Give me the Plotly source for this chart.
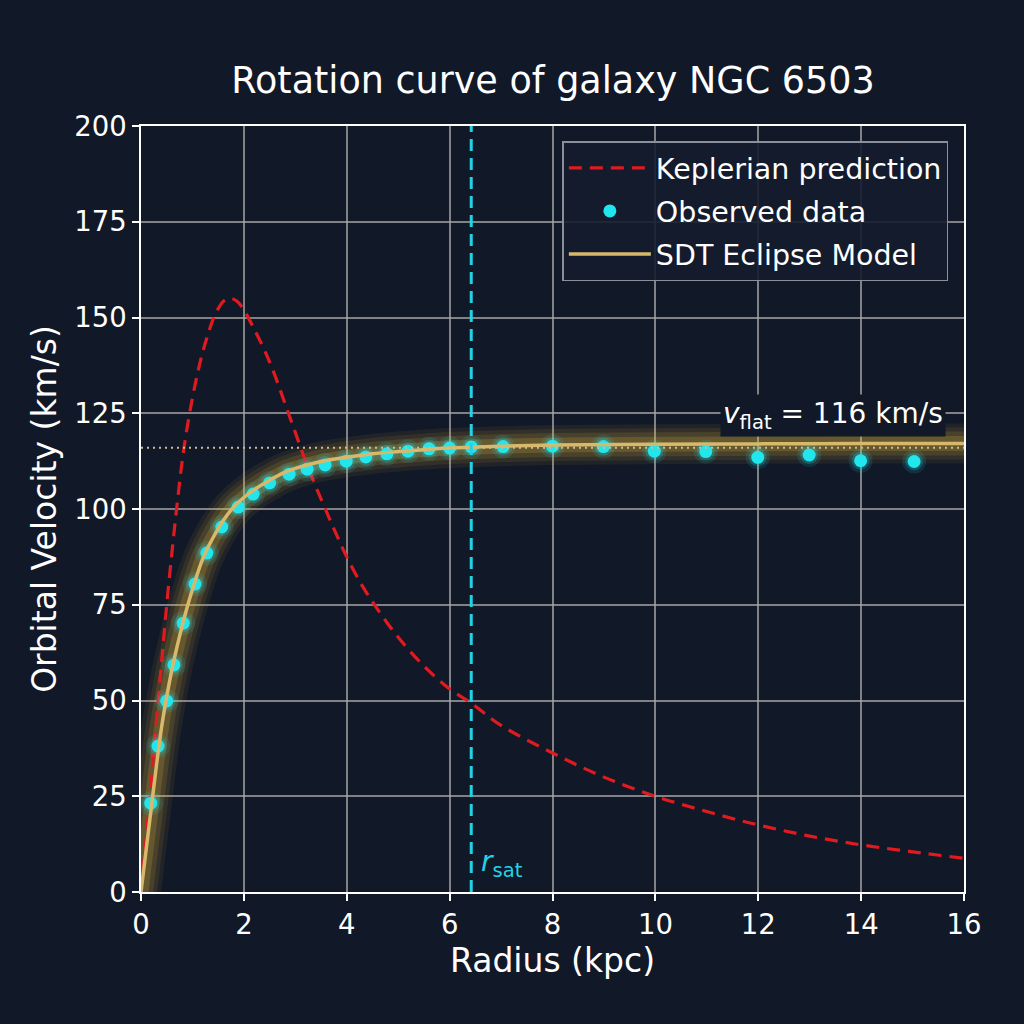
import plotly.graph_objects as go

# observed rotation curve points
obs_r = [0.19, 0.33, 0.5, 0.64, 0.82, 1.05, 1.28, 1.57, 1.89, 2.18, 2.5, 2.88,
         3.23, 3.58, 3.99, 4.37, 4.78, 5.19, 5.6, 6.0, 6.42, 7.04, 8.0, 8.99,
         9.98, 10.98, 11.99, 12.99, 13.99, 15.03]
obs_v = [23.2, 38.1, 49.9, 59.3, 70.2, 80.4, 88.5, 95.3, 100.5, 103.9, 106.8, 109.1,
         110.4, 111.5, 112.5, 113.6, 114.4, 115.1, 115.7, 115.9, 116.2, 116.3, 116.4, 116.3,
         115.1, 115.0, 113.5, 114.1, 112.6, 112.4]

# keplerian prediction
kep_r = [0, 0.1, 0.2, 0.3, 0.4, 0.5, 0.6, 0.7, 0.8, 0.9, 1.0, 1.1, 1.2, 1.3, 1.4,
         1.5, 1.6, 1.7, 1.8, 1.9, 2.0, 2.2, 2.4, 2.6, 2.8, 3.0, 3.2, 3.4, 3.6, 3.8,
         4.0, 4.3, 4.6, 5.0, 5.5, 6.0, 6.4, 7.0, 8.0, 9.0, 10, 11, 12, 13, 14, 15, 16]
kep_v = [0, 14, 29, 45, 60, 75, 88.5, 101, 112.5, 121.5, 129, 135.5, 141, 145.5, 149.5,
         152.3, 154.2, 155, 154.8, 153.8, 152, 147, 141.5, 135, 127.5, 120, 112.5, 105.8, 99.5, 93.3,
         87.5, 80, 73.8, 66.5, 59, 53, 49.5, 43.5, 36.3, 30, 25, 21, 17.5, 14.6, 12.3, 10.5, 8.8]

# SDT eclipse model
sdt_r = [0, 0.1, 0.2, 0.3, 0.4, 0.5, 0.6, 0.7, 0.8, 0.9, 1.0, 1.2, 1.4, 1.6, 1.8,
         2.0, 2.25, 2.5, 2.75, 3.0, 3.5, 4.0, 4.5, 5.0, 5.5, 6.0, 7.0, 8.0, 10, 12, 14, 16]
sdt_v = [0, 11, 22, 33, 43, 51, 58, 64, 69.5, 74.5, 79, 87, 92.5, 97, 100.5,
         103, 105.5, 107.5, 109.3, 110.6, 112.4, 113.5, 114.4, 115.0, 115.5, 115.9, 116.4, 116.7, 116.9, 117.0, 117.1, 117.1]

V_FLAT = 116
R_SAT = 6.42

BG = '#111827'
CYAN = '#22e6ee'
RED = '#e01b1f'
TAN = '#d8b96c'
FONT = 'DejaVu Sans'

fig = go.Figure()

fig.add_hline(y=V_FLAT, line=dict(color='#cdbd8c', width=2, dash='2px,4px'))
fig.add_vline(x=R_SAT, line=dict(color='#22d3e6', width=3, dash='12px,7px'))

# glow around the model curve
for w, a in [(40, 0.07), (32, 0.09), (24, 0.12), (15, 0.18)]:
    fig.add_trace(go.Scatter(x=sdt_r, y=sdt_v, mode='lines', line_shape='spline',
                             line=dict(color=f'rgba(235,190,60,{a})', width=w),
                             showlegend=False, hoverinfo='skip'))

fig.add_trace(go.Scatter(x=kep_r, y=kep_v, mode='lines', name='Keplerian prediction',
                         line_shape='spline', line=dict(color=RED, width=3.2, dash='13px,8px'),
                         legendgroup='a'))

# glow around the points
for s, a in [(24, 0.12), (18, 0.2)]:
    fig.add_trace(go.Scatter(x=obs_r, y=obs_v, mode='markers',
                             marker=dict(color=f'rgba(34,230,238,{a})', size=s),
                             showlegend=False, hoverinfo='skip'))

fig.add_trace(go.Scatter(x=obs_r, y=obs_v, mode='markers', name='Observed data',
                         marker=dict(color=CYAN, size=13), legendgroup='b'))

fig.add_trace(go.Scatter(x=sdt_r, y=sdt_v, mode='lines', name='SDT Eclipse Model',
                         line_shape='spline', line=dict(color=TAN, width=3.5),
                         legendgroup='c'))

fig.add_annotation(x=R_SAT + 0.15, y=2, xref='x', yref='y', xanchor='left', yanchor='bottom',
                   text='<i>r</i><sub>sat</sub>', showarrow=False,
                   font=dict(family=FONT, size=28, color='#22d3e6'))
fig.add_annotation(x=15.65, y=124.5, xref='x', yref='y', xanchor='right', yanchor='middle',
                   text='<i>v</i><sub>flat</sub> = 116 km/s', showarrow=False,
                   bgcolor=BG, borderpad=2,
                   font=dict(family=FONT, size=28, color='white'))

axis_style = dict(showline=True, mirror=True, linecolor='white', linewidth=1.6,
                  ticks='outside', ticklen=7, tickwidth=1.6, tickcolor='white',
                  showgrid=True, gridcolor='rgba(165,165,165,0.75)', gridwidth=1.5,
                  zeroline=False, tickfont=dict(family=FONT, size=27.5, color='white'),
                  title_font=dict(family=FONT, size=33, color='white'))

fig.update_xaxes(range=[0, 16], dtick=2, title_text='Radius (kpc)', title_standoff=10, **axis_style)
fig.update_yaxes(range=[0, 200], dtick=25, title_text='Orbital Velocity (km/s)', title_standoff=8, **axis_style)

fig.update_layout(
    width=1024, height=1024,
    margin=dict(l=141, r=60, t=126, b=132),
    paper_bgcolor=BG, plot_bgcolor=BG,
    title=dict(text='Rotation curve of galaxy NGC 6503', x=0.54, xanchor='center', y=0.922,
               yanchor='middle', font=dict(family=FONT, size=36.5, color='white')),
    legend=dict(x=0.981, xanchor='right', y=0.98, yanchor='top',
                bgcolor='rgba(20,28,46,0.9)', bordercolor='#8a8f99', borderwidth=1.5,
                font=dict(family=FONT, size=28.5, color='white'),
                traceorder='grouped', tracegroupgap=3, itemwidth=82),
    showlegend=True,
)

fig.write_html("out.html", config={'displayModeBar': False},
               post_script="document.body.style.margin='0';")
